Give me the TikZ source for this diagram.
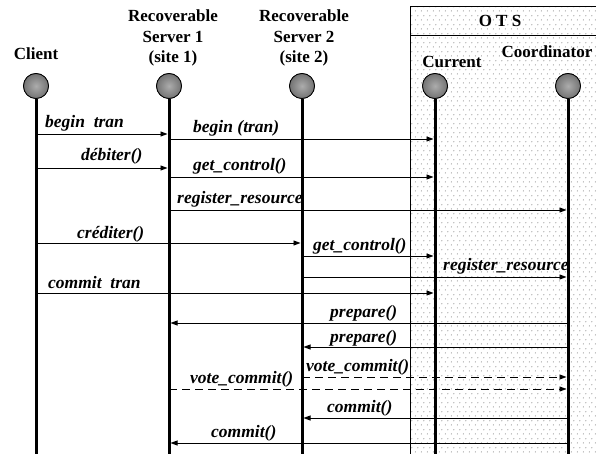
\documentclass[tikz,border=0pt]{standalone}
\usepackage{fontspec}
\setmainfont{Liberation Serif}
\usetikzlibrary{arrows.meta,patterns.meta}
\tikzdeclarepattern{
  name=otsdots, type=uncolored,
  bounding box={(0pt,0pt) and (6pt,8.6pt)},
  tile size={(6pt,8.6pt)},
  code={
    \fill (1.5pt,2.15pt) circle (0.5pt);
    \fill (4.5pt,6.45pt) circle (0.5pt);
  }
}
\begin{document}
\begin{tikzpicture}[x=1pt,y=-1pt,
  hdr/.style={font=\fontsize{17}{20.5}\selectfont\bfseries, align=center, inner sep=0pt},
  lbl/.style={font=\fontsize{17.5}{20}\selectfont\bfseries\itshape, anchor=base west, inner sep=0pt},
  msg/.style={line width=0.9pt, -{Triangle[length=7pt,width=5pt]}, shorten >=1.5pt},
  vote/.style={msg, dash pattern=on 8pt off 5pt},
  life/.style={line width=3pt},
  obj/.style={circle, draw, line width=0.8pt, minimum size=25pt, inner sep=0pt,
              inner color=gray!65, outer color=black!55}
]
\useasboundingbox (0,0) rectangle (596,454);
% OTS box
\fill[pattern=otsdots, pattern color=black!80]
  (410,6) rectangle (600,460);
\draw[line width=0.8pt] (600,6) -- (410,6) -- (410,460);
\draw[line width=0.8pt] (410,35) -- (600,35);
\node[hdr, anchor=base] (ots) at (500,27) {O T S};

% headers
\node[hdr, anchor=base] (hcl) at (36,60) {Client};
\node[hdr, anchor=north] (hs1) at (173,10) {Recoverable\\Server 1\\(site 1)};
\node[hdr, anchor=north] (hs2) at (304,10) {Recoverable\\Server 2\\(site 2)};
\node[hdr, anchor=base] (hcur) at (452,68) {Current};
\node[hdr, anchor=base] (hco) at (547,58) {Coordinator};

% objects
\node[obj] (cl) at (36,86) {};
\node[obj] (s1) at (169,86) {};
\node[obj] (s2) at (302,86) {};
\node[obj] (cu) at (435,86) {};
\node[obj] (co) at (568,86) {};

% labels
\node[lbl] (l1) at (45,128) {begin\ \ tran};
\node[lbl] (l2) at (193,133) {begin (tran)};
\node[lbl] (l3) at (81,161) {débiter()};
\node[lbl] (l4) at (193,171) {get\_control()};
\node[lbl] (l5) at (177,204) {register\_resource};
\node[lbl] (l6) at (77,238) {créditer()};
\node[lbl] (l7) at (313,250) {get\_control()};
\node[lbl] (l8) at (443,270) {register\_resource};
\node[lbl] (l9) at (48,288) {commit\ \ tran};
\node[lbl] (l10) at (330,317) {prepare()};
\node[lbl] (l11) at (330,342) {prepare()};
\node[lbl] (l12) at (306,371) {vote\_commit()};
\node[lbl] (l13) at (190,383) {vote\_commit()};
\node[lbl] (l14) at (327,412) {commit()};
\node[lbl] (l15) at (211,437) {commit()};

% messages
\draw[msg] (cl |- 0,134) -- (s1 |- 0,134);
\draw[msg] (s1 |- 0,139) -- (cu |- 0,139);
\draw[msg] (cl |- 0,168) -- (s1 |- 0,168);
\draw[msg] (s1 |- 0,177) -- (cu |- 0,177);
\draw[msg] (s1 |- 0,210) -- (co |- 0,210);
\draw[msg] (cl |- 0,243) -- (s2 |- 0,243);
\draw[msg] (s2 |- 0,256) -- (cu |- 0,256);
\draw[msg] (s2 |- 0,277) -- (co |- 0,277);
\draw[msg] (cl |- 0,293) -- (cu |- 0,293);
\draw[msg] (co |- 0,323) -- (s1 |- 0,323);
\draw[msg] (co |- 0,347) -- (s2 |- 0,347);
\draw[vote] (s2 |- 0,377) -- (co |- 0,377);
\draw[vote] (s1 |- 0,389) -- (co |- 0,389);
\draw[msg] (co |- 0,418) -- (s2 |- 0,418);
\draw[msg] (co |- 0,443) -- (s1 |- 0,443);

% lifelines
\foreach \o in {cl,s1,s2,cu,co}{
  \draw[life] (\o.south) -- (\o |- 0,460);
}
\foreach \o in {cl,s1,s2,cu,co}{
  \node[obj] at (\o) {};
}
\end{tikzpicture}
\end{document}
